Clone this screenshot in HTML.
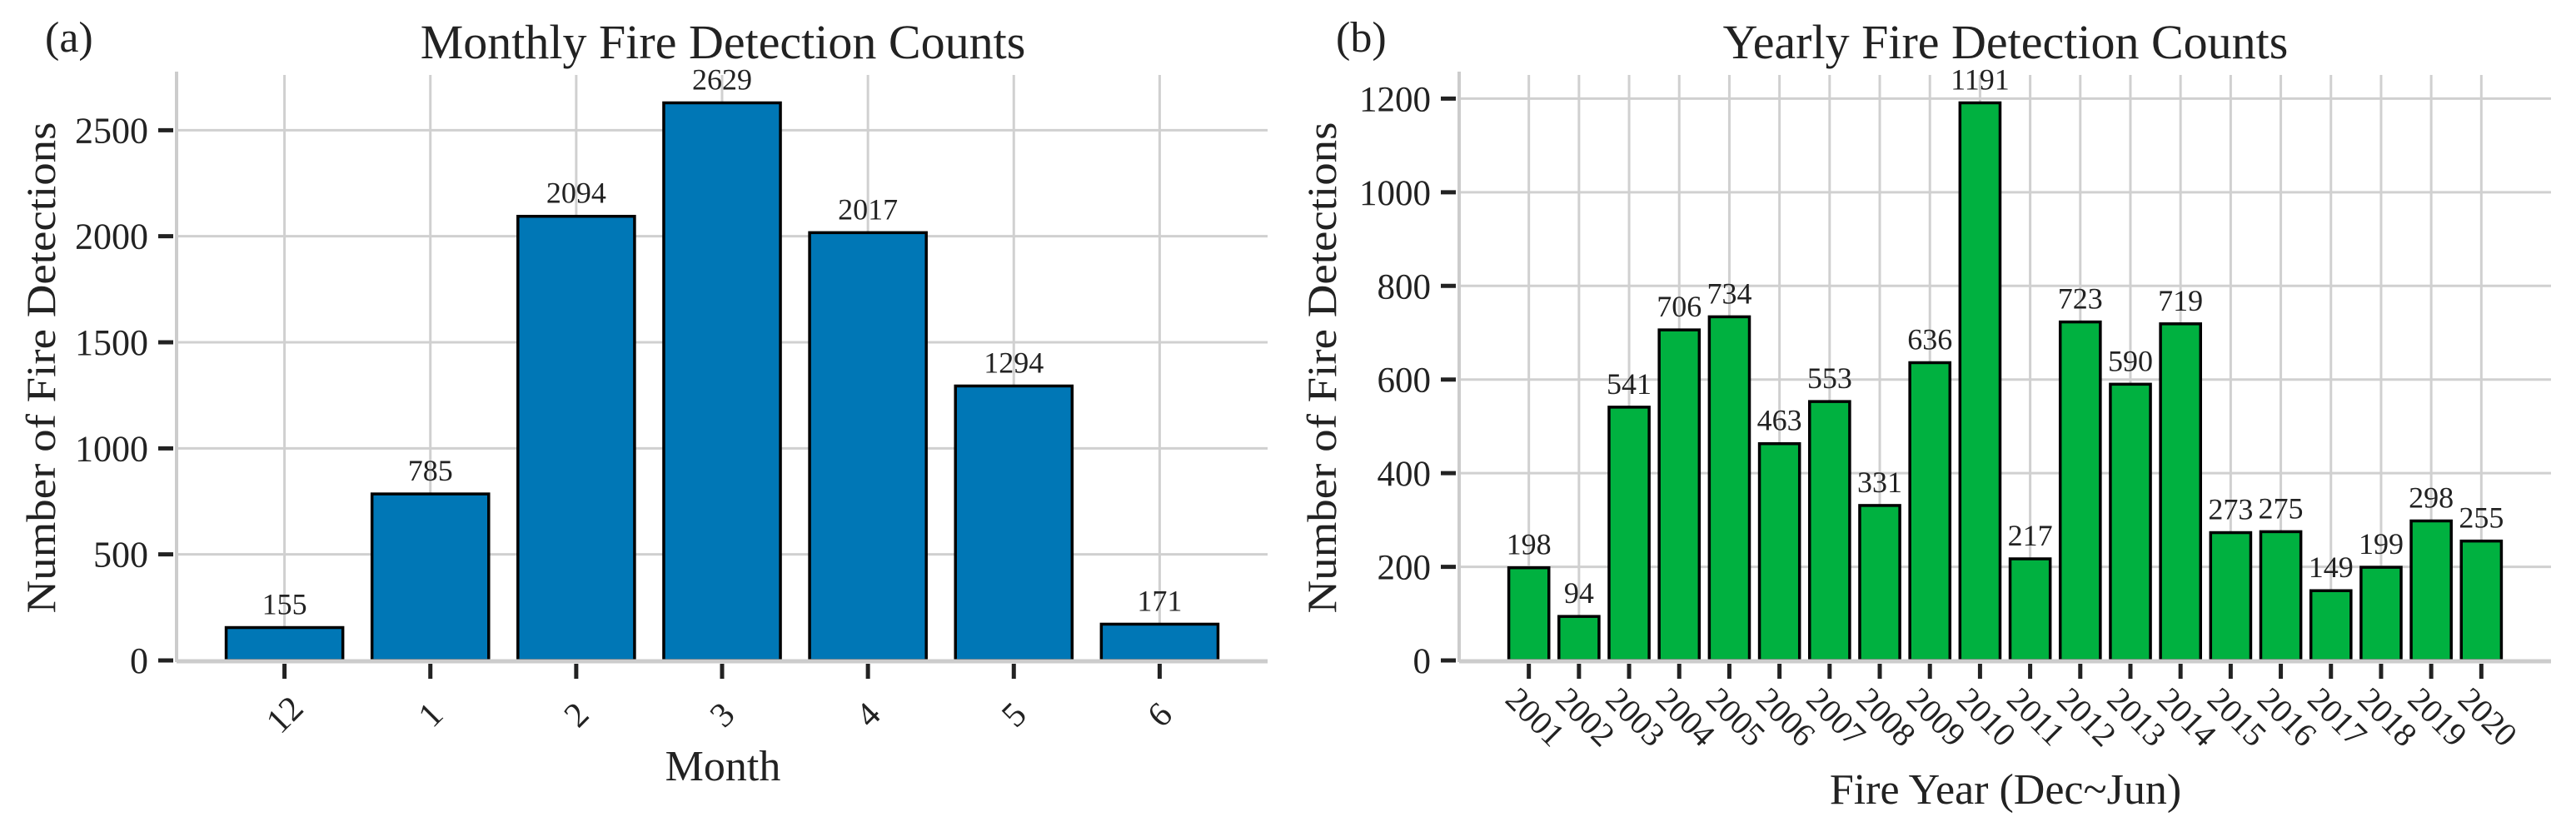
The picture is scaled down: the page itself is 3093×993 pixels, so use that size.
<!DOCTYPE html>
<html><head><meta charset="utf-8"><style>
html,body{margin:0;padding:0;background:#fff;}
svg{display:block;font-family:"Liberation Serif",serif;}
</style></head><body>
<svg id="fig" width="3093" height="993" viewBox="0 0 3093 993" xmlns="http://www.w3.org/2000/svg">
<g id="chartA"></g>
<g id="chartB"></g>
</svg>
<script>
const monthCategories = ["12","1","2","3","4","5","6"];
const monthValues = [155,785,2094,2629,2017,1294,171];
const monthTicks = [0,500,1000,1500,2000,2500];
const yearCategories = ["2001","2002","2003","2004","2005","2006","2007","2008","2009","2010","2011","2012","2013","2014","2015","2016","2017","2018","2019","2020"];
const yearValues = [198,94,541,706,734,463,553,331,636,1191,217,723,590,719,273,275,149,199,298,255];
const yearTicks = [0,200,400,600,800,1000,1200];

const NS="http://www.w3.org/2000/svg";
function mk(parent,tag,attrs,text){
  const e=document.createElementNS(NS,tag);
  for(const k in attrs) e.setAttribute(k,attrs[k]);
  if(text!==undefined) e.textContent=text;
  parent.appendChild(e); return e;
}

function drawChart(g,cfg){
  const n=cfg.cats.length;
  const maxV=Math.max(...cfg.vals)*1.05;
  const x0=cfg.left, x1=cfg.right, yTop=90, yBot=793;
  const xmin=-0.4-0.05*(n-0.2), xmax=n-1+0.4+0.05*(n-0.2);
  const xs=i=>x0+(i-xmin)/(xmax-xmin)*(x1-x0);
  const ys=v=>yBot-v/maxV*(yBot-yTop);
  const step=xs(1)-xs(0);
  cfg.cats.forEach((c,i)=>{
    const l=mk(g,'line',{x1:xs(i),x2:xs(i),y1:yTop,y2:yBot,stroke:'#d0d0d0','stroke-width':3});
    
    
  });
  cfg.ticks.forEach(t=>{
    const l=mk(g,'line',{x1:x0,x2:x1,y1:ys(t),y2:ys(t),stroke:'#d0d0d0','stroke-width':3});
    
    
    const tk=mk(g,'line',{x1:x0-22,x2:x0-4,y1:ys(t),y2:ys(t),stroke:'#222','stroke-width':5});
    
    
    const tl=mk(g,'text',{x:x0-34,y:ys(t)+15,'text-anchor':'end','font-size':cfg.tickFs,fill:'#222'},String(t));
    
    
  });
  const sp1=mk(g,'line',{x1:x0,x2:x0,y1:yTop-4,y2:yBot+2,stroke:'#cccccc','stroke-width':4});
  
  
  const bw=step*0.8;
  cfg.vals.forEach((v,i)=>{
    const r=mk(g,'rect',{x:xs(i)-bw/2,y:ys(v),width:bw,height:yBot-ys(v),fill:cfg.color,stroke:'#000','stroke-width':3.5});
    
    
    const t=mk(g,'text',{x:xs(i),y:ys(v)-16,'text-anchor':'middle','font-size':36,fill:'#222'},String(v));
    
    
  });
  const sp2=mk(g,'line',{x1:x0,x2:x1,y1:yBot+1,y2:yBot+1,stroke:'#cccccc','stroke-width':5});
  
  
  cfg.cats.forEach((c,i)=>{
    const tk=mk(g,'line',{x1:xs(i),x2:xs(i),y1:797,y2:815,stroke:'#222','stroke-width':5});
    
    
    let t;
    if(cfg.rotDown){
      const px=xs(i)-30, py=842;
      t=mk(g,'text',{x:px,y:py,'text-anchor':'start','font-size':40,fill:'#222',transform:`rotate(45 ${px} ${py})`},c);
    } else {
      const px=xs(i), py=872;
      t=mk(g,'text',{x:px,y:py,'text-anchor':'middle','font-size':42,fill:'#222',transform:`rotate(-45 ${px} ${py-14})`},c);
    }
    
    
  });
  const ti=mk(g,'text',{x:cfg.titleX,y:70,'text-anchor':'middle','font-size':58,fill:'#222'},cfg.title);
  
  
  const xl=mk(g,'text',{x:cfg.titleX,y:cfg.xlabY,'text-anchor':'middle','font-size':52,fill:'#222'},cfg.xlabel);
  
  
  const yx=cfg.ylabX, yy=(yTop+yBot)/2;
  const yl=mk(g,'text',{x:yx,y:yy,'text-anchor':'middle','font-size':50,fill:'#222',transform:`rotate(-90 ${yx} ${yy})`,textLength:590,lengthAdjust:'spacingAndGlyphs'},'Number of Fire Detections');
  
  
  const pl=mk(g,'text',{x:cfg.panelX,y:62,'font-size':52,fill:'#222'},cfg.panel);
  
  
}

drawChart(document.getElementById('chartA'),{cats:monthCategories,vals:monthValues,ticks:monthTicks,left:212,right:1522,color:'#0077b6',title:'Monthly Fire Detection Counts',titleX:868,xlabel:'Month',xlabY:937,ylabX:66,panelX:54,panel:'(a)',rotDown:false,tickFs:44});
drawChart(document.getElementById('chartB'),{cats:yearCategories,vals:yearValues,ticks:yearTicks,left:1752,right:3063,color:'#00b140',title:'Yearly Fire Detection Counts',titleX:2408,xlabel:'Fire Year (Dec~Jun)',xlabY:965,ylabX:1604,panelX:1604,panel:'(b)',rotDown:true,tickFs:43});
</script>
</body></html>
